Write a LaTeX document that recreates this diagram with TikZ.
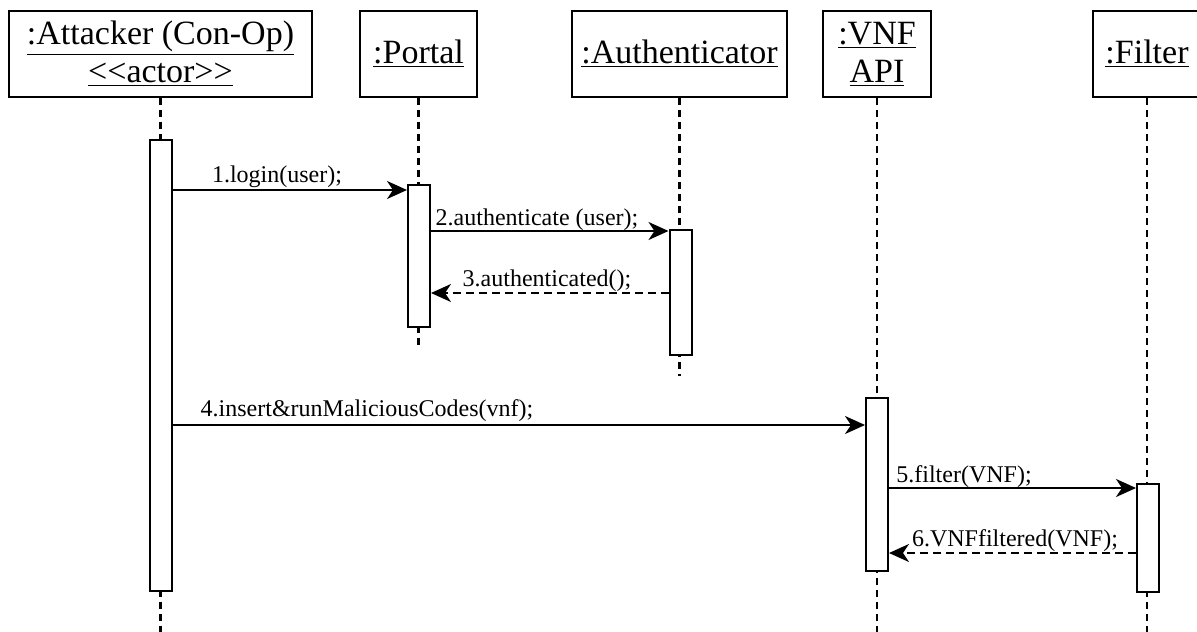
\documentclass[tikz,border=0pt]{standalone}
\usepackage{fontspec}
\setmainfont{Liberation Serif}
\usetikzlibrary{arrows.meta}

\begin{document}
\begin{tikzpicture}[x=0.5pt, y=-0.5pt,
    obj/.style={draw, line width=1pt, minimum height=43pt, inner sep=1pt, align=center, font=\fontsize{17}{19}\selectfont},
    bar/.style={draw, fill=white, line width=1pt, minimum width=11pt, inner sep=0pt},
    life/.style={line width=1.1pt, dash pattern=on 3.5pt off 2.5pt},
    msg/.style={line width=1pt, -{Stealth[length=10pt, width=9pt, inset=3pt]}},
    ret/.style={msg, dash pattern=on 4pt off 2.5pt},
    lbl/.style={anchor=base, font=\fontsize{12}{14}\selectfont, inner sep=0pt}]
        \useasboundingbox (0,0) rectangle (1197,631);

        \node[obj, minimum width=151.5pt] (attacker) at (160.5,54) {\underline{:Attacker (Con-Op)}\\\underline{<\kern0pt<actor>\kern0pt>}};
        \node[obj, minimum width=58.5pt] (portal) at (418.5,54) {\underline{:Portal}};
        \node[obj, minimum width=107.5pt] (auth) at (679.5,54) {\underline{:Authenticator}};
        \node[obj, minimum width=54pt] (vnf) at (877,54) {\underline{:VNF}\\\underline{API}};
        \node[obj, minimum width=54pt] (filter) at (1147,54) {\underline{:Filter}};

        \coordinate (bottom) at (0,640);
        \coordinate (portEnd) at (0,349);
        \coordinate (authEnd) at (0,376);
        \draw[life] (attacker.south) -- (attacker.south |- bottom);
        \draw[life] (portal.south) -- (portal.south |- portEnd);
        \draw[life] (auth.south) -- (auth.south |- authEnd);
        \draw[life] (vnf.south) -- (vnf.south |- bottom);
        \draw[life] (filter.south) -- (filter.south |- bottom);

        \node[bar, minimum height=225.5pt] (barA) at (160.5,365.5) {};
        \node[bar, minimum height=71pt] (barP) at (419,256) {};
        \node[bar, minimum height=62.5pt] (barU) at (680.5,292.5) {};
        \node[bar, minimum height=86.5pt] (barV) at (877,484.5) {};
        \node[bar, minimum height=54pt] (barF) at (1148,538) {};

        \coordinate (m1) at (0,190);
        \coordinate (m2) at (0,231);
        \coordinate (m3) at (0,293);
        \coordinate (m4) at (0,425);
        \coordinate (m5) at (0,488);
        \coordinate (m6) at (0,553);

        \draw[msg] (barA.east |- m1) -- (barP.west |- m1);
        \draw[msg] (barP.east |- m2) -- (barU.west |- m2);
        \draw[ret] (barU.west |- m3) -- (barP.east |- m3);
        \draw[msg] (barA.east |- m4) -- (barV.west |- m4);
        \draw[msg] (barV.east |- m5) -- (barF.west |- m5);
        \draw[ret] (barF.west |- m6) -- (barV.east |- m6);

        \node[lbl] (l1) at (277,182) {1.login(user);};
        \node[lbl] (l2) at (537,225) {2.authenticate (user);};
        \node[lbl] (l3) at (547,286) {3.authenticated();};
        \node[lbl] (l4) at (367,416) {4.insert\&runMaliciousCodes(vnf);};
        \node[lbl] (l5) at (964,482) {5.filter(VNF);};
        \node[lbl] (l6) at (1015,546) {6.VNFfiltered(VNF);};
    \end{tikzpicture}
\end{document}
